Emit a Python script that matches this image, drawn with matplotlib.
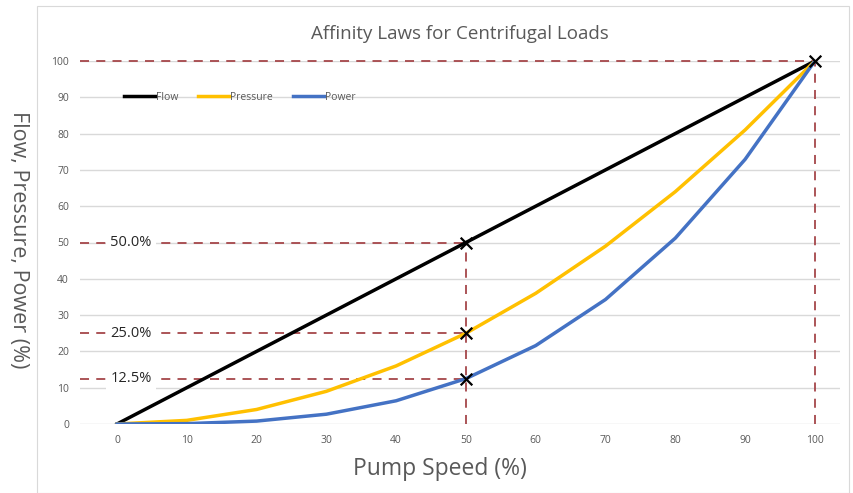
import matplotlib
matplotlib.use("Agg")
import matplotlib.pyplot as plt
from matplotlib.patches import Rectangle

speed = [0, 10, 20, 30, 40, 50, 60, 70, 80, 90, 100]
flow = [0, 10, 20, 30, 40, 50, 60, 70, 80, 90, 100]
pressure = [0, 1, 4, 9, 16, 25, 36, 49, 64, 81, 100]
power = [0, 0.1, 0.8, 2.7, 6.4, 12.5, 21.6, 34.3, 51.2, 72.9, 100]

mark_x = [50, 50, 50, 100]
mark_y = [50, 25, 12.5, 100]
mark_labels = ["50.0%", "25.0%", "12.5%"]

plt.rcParams['font.family'] = ['Open Sans', 'DejaVu Sans']
gray = '#595959'
dash_col = '#A5464A'

fig = plt.figure(figsize=(8.54, 4.93), dpi=100)
# faint chart-area border
fig.patches.append(Rectangle((37/854, 0), 812/854, 487/493, transform=fig.transFigure,
                             fill=False, edgecolor='#d9d9d9', linewidth=0.8))
ax = fig.add_axes([80/854, 1-424/493, 760/854, 363/493])

ax.plot(speed, flow, color='black', linewidth=2.5, label='Flow', zorder=3)
ax.plot(speed, pressure, color='#FFC000', linewidth=2.5, label='Pressure', zorder=3)
ax.plot(speed, power, color='#4472C4', linewidth=2.5, label='Power', zorder=3)

# reference dashed lines
for yv in mark_y:
    ax.plot([-5.3, 50 if yv < 100 else 100], [yv, yv], color=dash_col, linestyle=(0, (5, 4)),
            linewidth=1.3, zorder=2, clip_on=False)
ax.plot([50, 50], [0, 50], color=dash_col, linestyle=(0, (5, 4)), linewidth=1.3, zorder=2)
ax.plot([100, 100], [0, 100], color=dash_col, linestyle=(0, (5, 4)), linewidth=1.3, zorder=2)
ax.scatter(mark_x, mark_y, marker='x', s=70, color='black', linewidths=1.6, zorder=5, clip_on=False)

for lbl, yv in zip(mark_labels, mark_y[:3]):
    ax.text(2, yv, lbl, fontsize=10.5, color='#262626', va='center', ha='center',
            bbox=dict(facecolor='white', edgecolor='none', pad=3), zorder=4)

ax.set_xlim(-5.3, 103.6)
ax.set_ylim(0, 100)
ax.set_xticks(speed)
ax.set_yticks(range(0, 101, 10))
ax.tick_params(length=0, labelsize=7.5, labelcolor=gray, pad=8)
ax.grid(axis='y', color='#d9d9d9', linewidth=1)
ax.set_axisbelow(True)
for s in ax.spines.values():
    s.set_visible(False)

ax.set_title('Affinity Laws for Centrifugal Loads', fontsize=13.5, color=gray, pad=16)
ax.set_xlabel('Pump Speed (%)', fontsize=16.5, color=gray)
ax.xaxis.set_label_coords((440-80)/760, -33/363)
# y label reads top-to-bottom in the original
fig.text(18/854, 1-240/493, 'Flow, Pressure, Power (%)', fontsize=15.5, color=gray,
         rotation=-90, ha='center', va='center')

leg = ax.legend(loc='center left', bbox_to_anchor=(0.045, 0.9), ncol=3, frameon=False,
                fontsize=7.5, handlelength=3, columnspacing=1.9, handletextpad=0.1)
for t in leg.get_texts():
    t.set_color(gray)

fig.savefig('out.png', dpi=100)
